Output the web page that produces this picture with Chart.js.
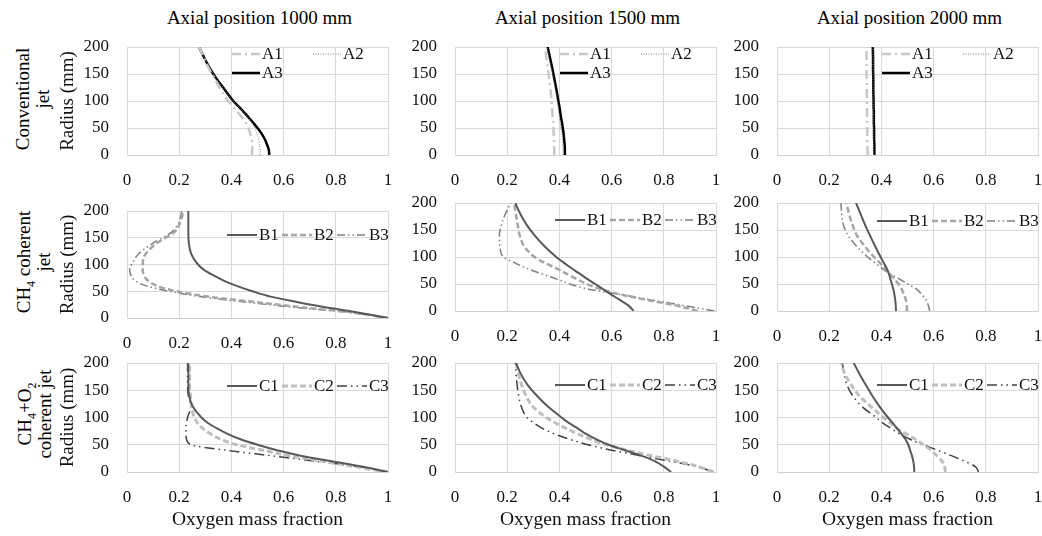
<!DOCTYPE html>
<html lang="en">
<head>
    <meta charset="UTF-8">
    <title>Oxygen mass fraction profiles</title>
    <style>
        body { margin: 0; width: 1042px; height: 536px; overflow: hidden; background: #fff;
               font-family: "Liberation Serif", serif; color: #000; position: relative; }
        canvas, .lbl { position: absolute; }
        .colTitle { font-size: 19px; white-space: nowrap; transform: translate(-50%, -50%); }
        .rowLbl { font-size: 19px; line-height: 20px; width: 160px; text-align: center;
                  transform: translate(-50%, -50%) rotate(-90deg); }
        sub { font-size: 12px; line-height: 0; }
    </style>
</head>
<body>
    <script src="https://cdn.jsdelivr.net/npm/chart.js"></script>
    <script>
        // radius (mm) shared by every profile
        const radius = [0, 10, 20, 30, 40, 50, 60, 70, 80, 90, 100, 120, 140, 160, 180, 200];
        const xTicks = [0, 0.2, 0.4, 0.6, 0.8, 1];
        const yTicks = [0, 50, 100, 150, 200];
        const axialTitles = ['Axial position 1000 mm', 'Axial position 1500 mm', 'Axial position 2000 mm'];
        const seriesNames = [['A1', 'A2', 'A3'], ['B1', 'B2', 'B3'], ['C1', 'C2', 'C3']];

        // conventional jet
        const a1_1000 = [0.478, 0.480, 0.480, 0.478, 0.472, 0.465, 0.455, 0.440, 0.423, 0.405, 0.388, 0.360, 0.338, 0.314, 0.295, 0.276];
        const a2_1000 = [0.510, 0.510, 0.507, 0.503, 0.497, 0.490, 0.478, 0.462, 0.446, 0.427, 0.405, 0.377, 0.344, 0.318, 0.296, 0.276];
        const a3_1000 = [0.545, 0.543, 0.536, 0.527, 0.515, 0.500, 0.483, 0.465, 0.447, 0.427, 0.407, 0.376, 0.345, 0.318, 0.296, 0.276];
        const a1_1500 = [0.380, 0.380, 0.380, 0.379, 0.378, 0.377, 0.376, 0.374, 0.373, 0.371, 0.370, 0.366, 0.361, 0.356, 0.350, 0.345];
        const a2_1500 = [0.415, 0.414, 0.413, 0.411, 0.408, 0.405, 0.403, 0.400, 0.397, 0.395, 0.392, 0.385, 0.377, 0.369, 0.360, 0.352];
        const a3_1500 = [0.421, 0.421, 0.420, 0.418, 0.416, 0.413, 0.410, 0.406, 0.403, 0.400, 0.396, 0.389, 0.381, 0.373, 0.364, 0.355];
        const a1_2000 = [0.347, 0.347, 0.347, 0.346, 0.346, 0.346, 0.345, 0.345, 0.345, 0.345, 0.344, 0.344, 0.344, 0.343, 0.343, 0.343];
        const a2_2000 = [0.370, 0.370, 0.370, 0.370, 0.369, 0.369, 0.369, 0.369, 0.369, 0.369, 0.368, 0.368, 0.368, 0.368, 0.368, 0.368];
        const a3_2000 = [0.373, 0.373, 0.373, 0.372, 0.372, 0.372, 0.371, 0.371, 0.371, 0.370, 0.370, 0.369, 0.369, 0.368, 0.368, 0.367];

        // CH4 coherent jet
        const b1_1000 = [1.000, 0.890, 0.760, 0.650, 0.550, 0.480, 0.420, 0.370, 0.330, 0.295, 0.272, 0.246, 0.237, 0.235, 0.235, 0.235];
        const b2_1000 = [1.000, 0.867, 0.670, 0.490, 0.310, 0.190, 0.115, 0.080, 0.065, 0.060, 0.060, 0.072, 0.115, 0.180, 0.205, 0.216];
        const b3_1000 = [0.990, 0.860, 0.640, 0.450, 0.280, 0.160, 0.074, 0.030, 0.015, 0.010, 0.018, 0.045, 0.100, 0.170, 0.200, 0.210];
        const b1_1500 = [0.684, 0.665, 0.633, 0.600, 0.568, 0.537, 0.505, 0.475, 0.444, 0.415, 0.388, 0.343, 0.305, 0.274, 0.250, 0.231];
        const b2_1500 = [0.930, 0.850, 0.740, 0.640, 0.560, 0.505, 0.463, 0.423, 0.385, 0.340, 0.305, 0.265, 0.248, 0.240, 0.233, 0.227];
        const b3_1500 = [0.993, 0.880, 0.757, 0.642, 0.515, 0.440, 0.385, 0.325, 0.270, 0.225, 0.185, 0.172, 0.170, 0.178, 0.193, 0.214];
        const b1_2000 = [0.456, 0.455, 0.453, 0.450, 0.446, 0.440, 0.434, 0.428, 0.419, 0.408, 0.397, 0.376, 0.356, 0.337, 0.320, 0.303];
        const b2_2000 = [0.498, 0.497, 0.494, 0.487, 0.478, 0.465, 0.448, 0.430, 0.412, 0.392, 0.372, 0.336, 0.306, 0.289, 0.276, 0.266];
        const b3_2000 = [0.585, 0.580, 0.572, 0.556, 0.536, 0.502, 0.466, 0.428, 0.400, 0.373, 0.347, 0.305, 0.272, 0.254, 0.248, 0.245];

        // CH4+O2 coherent jet
        const c1_1000 = [1.000, 0.900, 0.780, 0.665, 0.575, 0.500, 0.435, 0.385, 0.345, 0.310, 0.285, 0.252, 0.238, 0.235, 0.235, 0.235];
        const c2_1000 = [1.000, 0.870, 0.750, 0.620, 0.520, 0.420, 0.360, 0.320, 0.290, 0.270, 0.258, 0.247, 0.243, 0.240, 0.240, 0.240];
        const c3_1000 = [1.000, 0.880, 0.720, 0.550, 0.380, 0.245, 0.228, 0.226, 0.226, 0.228, 0.232, 0.245, 0.235, 0.232, 0.232, 0.232];
        const c1_1500 = [0.828, 0.800, 0.765, 0.713, 0.651, 0.589, 0.542, 0.502, 0.470, 0.436, 0.408, 0.356, 0.314, 0.278, 0.252, 0.234];
        const c2_1500 = [0.990, 0.930, 0.850, 0.750, 0.660, 0.580, 0.520, 0.470, 0.425, 0.385, 0.350, 0.298, 0.272, 0.255, 0.243, 0.234];
        const c3_1500 = [0.990, 0.925, 0.820, 0.710, 0.600, 0.510, 0.440, 0.380, 0.335, 0.302, 0.276, 0.254, 0.244, 0.238, 0.234, 0.232];
        const c1_2000 = [0.526, 0.525, 0.522, 0.517, 0.510, 0.503, 0.492, 0.477, 0.460, 0.443, 0.425, 0.393, 0.365, 0.340, 0.316, 0.294];
        const c2_2000 = [0.645, 0.642, 0.632, 0.612, 0.590, 0.562, 0.530, 0.495, 0.460, 0.434, 0.408, 0.360, 0.315, 0.284, 0.260, 0.245];
        const c3_2000 = [0.772, 0.760, 0.718, 0.668, 0.615, 0.560, 0.510, 0.470, 0.437, 0.405, 0.380, 0.326, 0.290, 0.268, 0.258, 0.250];

        const panelData = [
            [[a1_1000, a2_1000, a3_1000], [a1_1500, a2_1500, a3_1500], [a1_2000, a2_2000, a3_2000]],
            [[b1_1000, b2_1000, b3_1000], [b1_1500, b2_1500, b3_1500], [b1_2000, b2_2000, b3_2000]],
            [[c1_1000, c2_1000, c3_1000], [c1_1500, c2_1500, c3_1500], [c1_2000, c2_2000, c3_2000]]
        ];

        // line looks per row (series 1..3)
        const rowStyles = [
            [{ c: '#c8c8c8', w: 2.5, d: [9, 4, 2, 4] }, { c: '#808080', w: 1, d: [1, 1.5] }, { c: '#000000', w: 2.5, d: [] }],
            [{ c: '#595959', w: 2, d: [] }, { c: '#a6a6a6', w: 2.5, d: [6, 3] }, { c: '#7f7f7f', w: 1.5, d: [8, 3, 1.5, 3, 1.5, 3] }],
            [{ c: '#595959', w: 2, d: [] }, { c: '#bfbfbf', w: 3, d: [6, 3] }, { c: '#404040', w: 1.5, d: [10, 4, 1.5, 4, 1.5, 4] }]
        ];

        // plot area geometry
        const colLeft = [127, 455, 777];
        const plotW = 261;
        const plotTop = [[47, 47, 47], [211, 203, 203], [363, 363, 363]];
        const plotBot = [[155, 155, 155], [318, 311, 311], [472, 472, 472]];
        const legendY = [[7, 7, 7], [24, 17, 18], [23, 22, 22]];

        const FONT = '"Liberation Serif", serif';
        Chart.defaults.font.family = FONT;
        Chart.defaults.font.size = 17;
        Chart.defaults.color = '#111';

        // legend drawn inside the plot area, Excel style
        const insideLegend = {
            id: 'insideLegend',
            afterDraw(chart, args, opts) {
                const { ctx, chartArea } = chart;
                ctx.save();
                ctx.font = '17px ' + FONT;
                ctx.textBaseline = 'middle';
                chart.data.datasets.forEach((ds, i) => {
                    const col = i % opts.cols, row = Math.floor(i / opts.cols);
                    const x = chartArea.left + opts.x + col * opts.colW;
                    const y = chartArea.top + opts.y + row * opts.rowH;
                    ctx.strokeStyle = ds.borderColor;
                    ctx.lineWidth = ds.borderWidth;
                    ctx.setLineDash(ds.borderDash);
                    ctx.beginPath();
                    ctx.moveTo(x, y);
                    ctx.lineTo(x + opts.lineW, y);
                    ctx.stroke();
                    ctx.setLineDash([]);
                    ctx.fillStyle = '#111';
                    ctx.fillText(ds.label, x + opts.lineW + 2, y + 1);
                });
                ctx.restore();
            }
        };

        function addText(cls, html, x, y) {
            const d = document.createElement('div');
            d.className = 'lbl ' + cls;
            d.innerHTML = html;
            d.style.left = x + 'px';
            d.style.top = y + 'px';
            document.body.appendChild(d);
        }

        axialTitles.forEach((t, c) => addText('colTitle', t, colLeft[c] + plotW / 2 + 2, 18));
        addText('rowLbl', 'Conventional<br>jet', 33, 99);
        addText('rowLbl', 'CH<sub>4</sub> coherent<br>jet', 34, 262);
        addText('rowLbl', 'CH<sub>4</sub>+O<sub>2</sub><br>coherent jet', 35, 414);

        for (let r = 0; r < 3; r++) {
            for (let c = 0; c < 3; c++) {
                const yAxisW = c === 0 ? 72 : 50;
                // the scales reserve tick padding beside their end labels, so keep room for it
                const padTop = 30, padRight = 24;
                const xH = r === 2 ? 62 : 36;
                const plotH = plotBot[r][c] - plotTop[r][c];

                const cv = document.createElement('canvas');
                cv.width = yAxisW + plotW + padRight;
                cv.height = padTop + plotH + xH;
                cv.style.left = (colLeft[c] - yAxisW) + 'px';
                cv.style.top = (plotTop[r][c] - padTop) + 'px';
                document.body.appendChild(cv);

                const datasets = panelData[r][c].map((vals, i) => ({
                    label: seriesNames[r][i],
                    data: radius.map((rad, k) => ({ x: vals[k], y: rad })),
                    borderColor: rowStyles[r][i].c,
                    borderWidth: rowStyles[r][i].w,
                    borderDash: rowStyles[r][i].d,
                    pointRadius: 0,
                    fill: false,
                    cubicInterpolationMode: 'monotone'
                }));

                const legendOpts = r === 0
                    ? { x: 105, y: legendY[r][c], cols: 2, colW: 81, rowH: 19, lineW: 28 }
                    : { x: 100, y: legendY[r][c], cols: 3, colW: 55, rowH: 19, lineW: 30 };

                new Chart(cv, {
                    type: 'line',
                    data: { datasets: datasets },
                    plugins: [insideLegend],
                    options: {
                        responsive: false,
                        animation: false,
                        devicePixelRatio: 1,
                        indexAxis: 'y',
                        layout: { padding: { top: padTop, right: padRight, left: 0, bottom: 0 } },
                        plugins: {
                            legend: { display: false },
                            tooltip: { enabled: false },
                            insideLegend: legendOpts
                        },
                        scales: {
                            x: {
                                type: 'linear',
                                position: 'bottom',
                                min: 0,
                                max: 1,
                                afterBuildTicks: s => { s.ticks = xTicks.map(v => ({ value: v })); },
                                afterFit: s => { s.height = xH; },
                                ticks: { padding: 15, maxRotation: 0, autoSkip: false, callback: v => String(v) },
                                grid: { color: '#d9d9d9', drawTicks: false },
                                border: { color: '#cfcfcf' },
                                title: {
                                    display: r === 2,
                                    text: 'Oxygen mass fraction',
                                    font: { size: 19.5 },
                                    padding: { top: 0, bottom: 2 }
                                }
                            },
                            y: {
                                type: 'linear',
                                position: 'left',
                                min: 0,
                                max: 200,
                                afterBuildTicks: s => { s.ticks = yTicks.map(v => ({ value: v })); },
                                afterFit: s => { s.width = yAxisW; },
                                ticks: { padding: 18, autoSkip: false, callback: v => String(v) },
                                grid: { color: '#d9d9d9', drawTicks: false },
                                border: { color: '#d9d9d9' },
                                title: {
                                    display: c === 0,
                                    text: 'Radius (mm)',
                                    font: { size: 19 },
                                    padding: { top: 2, bottom: 0 }
                                }
                            }
                        }
                    }
                });
            }
        }
    </script>
</body>
</html>
